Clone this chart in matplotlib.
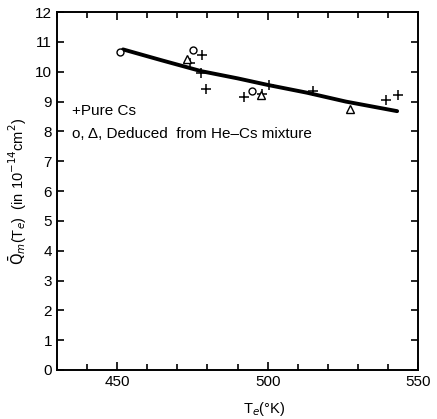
import matplotlib
matplotlib.use("Agg")
import matplotlib.pyplot as plt
from matplotlib.ticker import MultipleLocator

# datos
fit_t = [452, 465, 478, 490, 500, 513, 526, 543]
fit_q = [10.75, 10.38, 10.02, 9.78, 9.56, 9.30, 9.00, 8.68]

pure_t = [478.2, 474.3, 478.0, 479.7, 492.1, 498.2, 500.4, 515.2, 539.3, 543.4]
pure_q = [10.57, 10.29, 9.95, 9.42, 9.15, 9.26, 9.56, 9.34, 9.06, 9.23]

circ_t = [451.0, 475.3, 494.9]
circ_q = [10.65, 10.72, 9.34]

tri_t = [473.2, 497.7, 527.4]
tri_q = [10.42, 9.23, 8.76]

plt.rcParams['font.family'] = ['Liberation Sans', 'DejaVu Sans']

fig = plt.figure(figsize=(4.37, 4.19), dpi=100)
ax = fig.add_axes([0.130, 0.117, 0.827, 0.854])

ax.plot(fit_t, fit_q, color='black', lw=2.8, solid_capstyle='round')
ax.plot(pure_t, pure_q, linestyle='none', marker='+', ms=7, mew=1.1, color='black')
ax.plot(circ_t, circ_q, linestyle='none', marker='o', ms=5, mew=1.0, mfc='white', mec='black')
ax.plot(tri_t, tri_q, linestyle='none', marker='^', ms=6, mew=1.0, mfc='white', mec='black')

ax.set_xlim(430, 550)
ax.set_ylim(0, 12)
ax.xaxis.set_major_locator(MultipleLocator(50))
ax.xaxis.set_minor_locator(MultipleLocator(10))
ax.yaxis.set_major_locator(MultipleLocator(1))
ax.tick_params(which='both', direction='in', top=True, right=True, labelsize=11, width=1.2)
ax.tick_params(which='major', length=6)
ax.tick_params(which='minor', length=4)
ax.tick_params(axis='y', which='major', length=5)
for s in ax.spines.values():
    s.set_linewidth(1.4)

ax.text(435, 8.7, '+Pure Cs', fontsize=11, va='center')
ax.text(435, 7.92, 'o, \u0394, Deduced  from He\u2013Cs mixture', fontsize=11, va='center')

ax.set_xlabel(r'T$_e$(°K)', fontsize=10.5)
ax.xaxis.set_label_coords(0.573, -0.085)
ax.set_ylabel(r'$\bar{\mathrm{Q}}_m$(T$_e$)  (in 10$^{-14}$cm$^2$)', fontsize=10.5, labelpad=4)

fig.savefig('out.png', dpi=100)
